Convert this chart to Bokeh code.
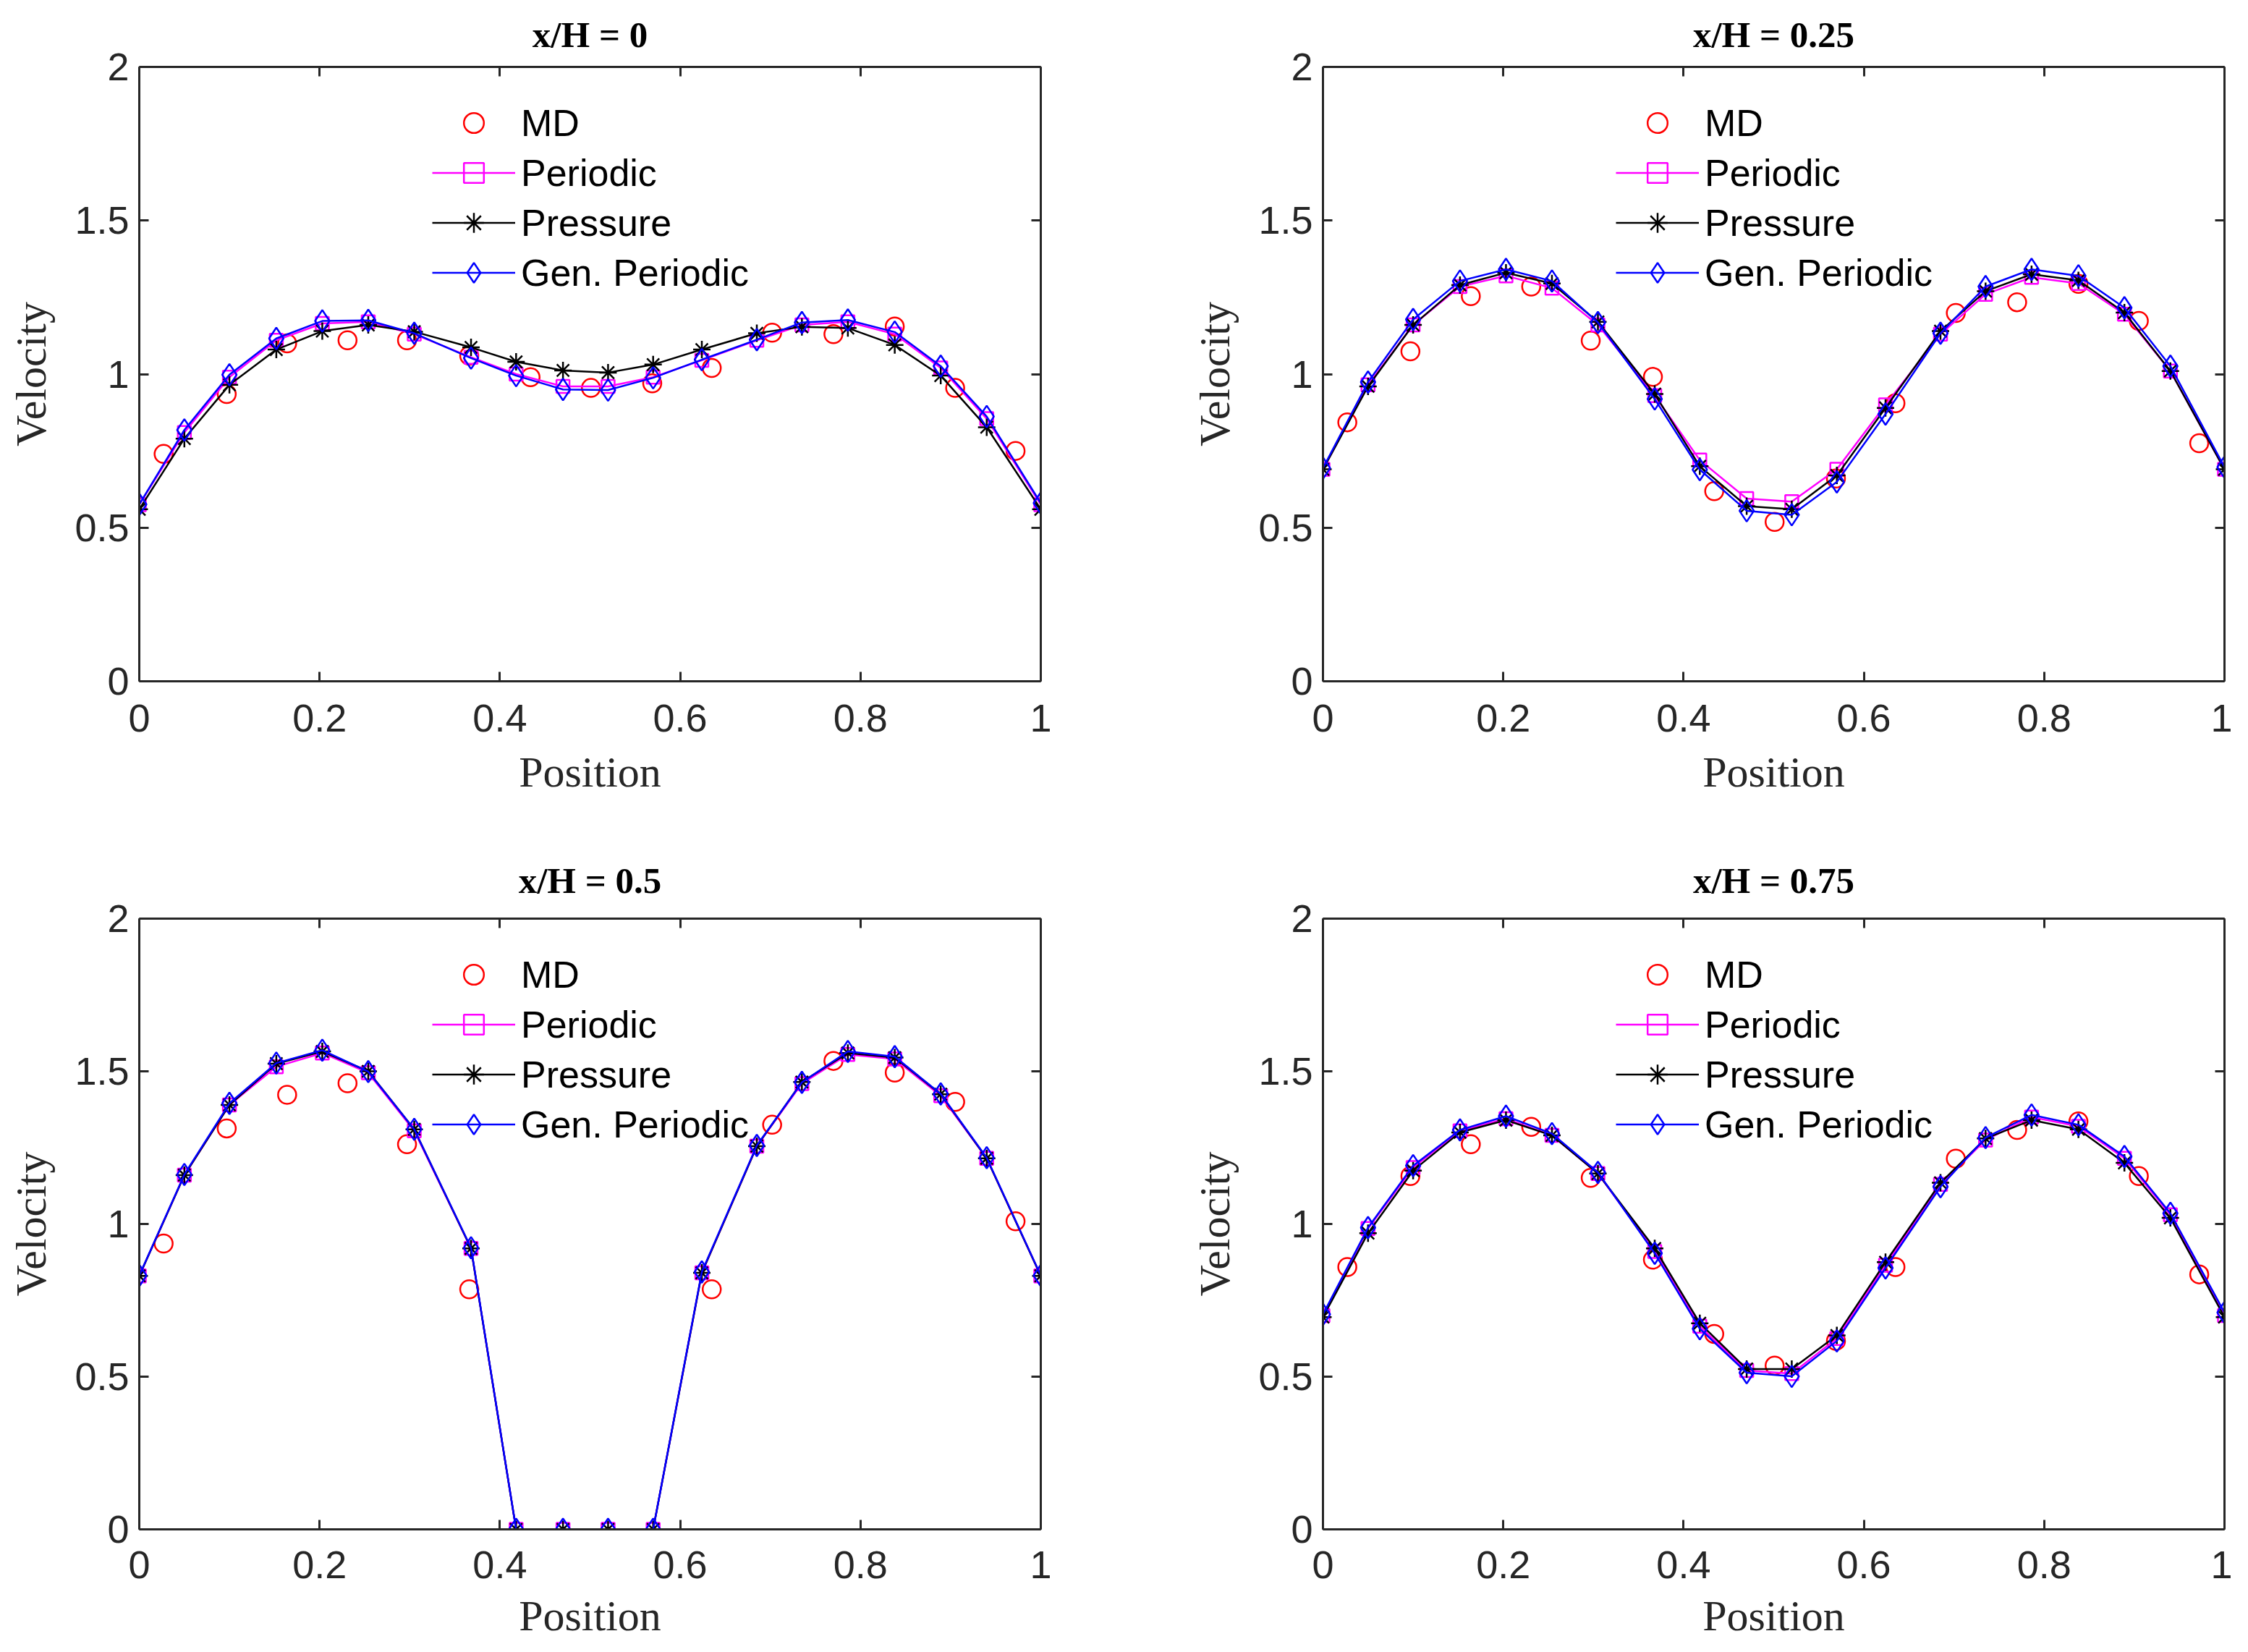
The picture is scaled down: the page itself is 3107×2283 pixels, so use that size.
from bokeh.plotting import figure
from bokeh.models import Range1d, FixedTicker, LinearAxis, Legend, LegendItem
from bokeh.layouts import column, row
from bokeh.embed import file_html
from bokeh.resources import INLINE

nan = float("nan")

# ---------------- data ----------------
X_GRID = [0.0, 0.05, 0.1, 0.152, 0.203, 0.254, 0.305, 0.368, 0.418, 0.47,
          0.52, 0.57, 0.624, 0.685, 0.735, 0.786, 0.838, 0.889, 0.94, 1.0]
X_MD = [0.027, 0.097, 0.164, 0.231, 0.297, 0.366, 0.434, 0.501, 0.569,
        0.635, 0.702, 0.770, 0.838, 0.905, 0.972]

TITLES = ["x/H = 0", "x/H = 0.25", "x/H = 0.5", "x/H = 0.75"]

md_0 = [0.74, 0.935, 1.10, 1.11, 1.11, 1.06, 0.99, 0.955, 0.97, 1.02, 1.135, 1.13, 1.155, 0.955, 0.75]
periodic_0 = [0.575, 0.81, 0.99, 1.11, 1.165, 1.17, 1.13, 1.055, 1.0, 0.96, 0.96, 0.99, 1.045, 1.11,
              1.16, 1.17, 1.13, 1.02, 0.855, 0.575]
pressure_0 = [0.56, 0.79, 0.965, 1.08, 1.14, 1.16, 1.138, 1.087, 1.04, 1.012, 1.005, 1.031, 1.08, 1.133,
              1.154, 1.15, 1.095, 0.995, 0.827, 0.56]
genper_0 = [0.576, 0.818, 0.998, 1.116, 1.173, 1.175, 1.133, 1.052, 0.995, 0.95, 0.948, 0.988, 1.047, 1.112,
            1.168, 1.176, 1.137, 1.026, 0.862, 0.58]

md_1 = [0.843, 1.074, 1.254, 1.285, 1.109, 0.991, 0.619, 0.519, 0.66, 0.905, 1.199, 1.234, 1.294, 1.173, 0.775]
periodic_1 = [0.69, 0.965, 1.16, 1.285, 1.32, 1.28, 1.16, 0.93, 0.72, 0.595, 0.585, 0.69, 0.9, 1.13,
              1.26, 1.315, 1.295, 1.195, 1.01, 0.69]
pressure_1 = [0.69, 0.96, 1.16, 1.29, 1.33, 1.295, 1.17, 0.935, 0.70, 0.57, 0.56, 0.67, 0.89, 1.14,
              1.27, 1.325, 1.305, 1.2, 1.01, 0.69]
genper_1 = [0.694, 0.974, 1.178, 1.303, 1.341, 1.303, 1.168, 0.919, 0.689, 0.555, 0.542, 0.649, 0.870, 1.133,
            1.285, 1.341, 1.32, 1.216, 1.026, 0.697]

md_2 = [0.936, 1.313, 1.423, 1.461, 1.261, 0.786, nan, nan, nan, 0.786, 1.325, 1.534, 1.496, 1.40, 1.009]
periodic_2 = [0.83, 1.16, 1.39, 1.515, 1.56, 1.495, 1.305, 0.92, 0.0, 0.0, 0.0, 0.0, 0.84, 1.255,
              1.46, 1.555, 1.54, 1.42, 1.215, 0.83]
pressure_2 = [0.83, 1.16, 1.39, 1.525, 1.565, 1.5, 1.31, 0.92, 0.0, 0.0, 0.0, 0.0, 0.84, 1.255,
              1.465, 1.56, 1.545, 1.425, 1.215, 0.83]
genper_2 = [0.831, 1.162, 1.395, 1.527, 1.569, 1.499, 1.31, 0.922, 0.0, 0.0, 0.0, 0.0, 0.843, 1.257,
            1.464, 1.565, 1.548, 1.426, 1.217, 0.831]

md_3 = [0.859, 1.157, 1.261, 1.318, 1.151, 0.883, 0.64, 0.536, 0.617, 0.859, 1.214, 1.308, 1.336, 1.157, 0.835]
periodic_3 = [0.70, 0.985, 1.185, 1.305, 1.345, 1.29, 1.165, 0.91, 0.665, 0.52, 0.51, 0.625, 0.865, 1.13,
              1.275, 1.35, 1.32, 1.215, 1.03, 0.70]
pressure_3 = [0.695, 0.97, 1.175, 1.30, 1.34, 1.29, 1.165, 0.92, 0.675, 0.525, 0.525, 0.635, 0.875, 1.135,
              1.28, 1.34, 1.31, 1.2, 1.02, 0.695]
genper_3 = [0.704, 0.988, 1.191, 1.308, 1.353, 1.296, 1.169, 0.904, 0.657, 0.513, 0.501, 0.617, 0.856, 1.122,
            1.283, 1.357, 1.325, 1.221, 1.035, 0.71]

X_TICKS = [0, 0.2, 0.4, 0.6, 0.8, 1]
X_TICK_LABELS = ["0", "0.2", "0.4", "0.6", "0.8", "1"]
Y_TICKS = [0, 0.5, 1, 1.5, 2]
Y_TICK_LABELS = ["0", "0.5", "1", "1.5", "2"]
SERIES_NAMES = ["MD", "Periodic", "Pressure", "Gen. Periodic"]

AX_COLOR = "#262626"
TICK_FONT = "Liberation Sans"
SERIF = "Liberation Serif"
LW = 2.5


def style_axis(ax, ticks, labels, show_labels):
    ax.ticker = FixedTicker(ticks=ticks)
    ax.axis_line_color = AX_COLOR
    ax.axis_line_width = 3
    ax.major_tick_line_color = AX_COLOR
    ax.major_tick_line_width = 3
    ax.major_tick_in = 13
    ax.major_tick_out = 0
    ax.minor_tick_line_color = None
    if show_labels:
        ax.major_label_overrides = {t: l for t, l in zip(ticks, labels)}
        ax.major_label_text_font = TICK_FONT
        ax.major_label_text_font_size = "54px"
        ax.major_label_text_color = AX_COLOR
    else:
        ax.major_label_overrides = {t: "" for t in ticks}
        ax.major_label_text_font_size = "1px"
        ax.major_label_standoff = 0


def make_panel(title, md, per, pre, gen, bl, br, bt, bb, fh, tick_so, lab_so, title_so):
    p = figure(frame_width=1246, frame_height=fh,
               min_border_left=bl, min_border_right=br,
               min_border_top=bt, min_border_bottom=bb,
               x_range=Range1d(0, 1), y_range=Range1d(0, 2),
               output_backend="svg", toolbar_location=None,
               background_fill_color="white", border_fill_color="white")
    p.grid.visible = False
    p.outline_line_color = None

    xa = p.xaxis[0]
    ya = p.yaxis[0]
    style_axis(xa, X_TICKS, X_TICK_LABELS, True)
    style_axis(ya, Y_TICKS, Y_TICK_LABELS, True)
    xa.major_label_standoff = tick_so
    ya.major_label_standoff = 14
    xa.axis_label = "Position"
    ya.axis_label = "Velocity"
    for a, st in ((xa, lab_so), (ya, 24)):
        a.axis_label_text_font = SERIF
        a.axis_label_text_font_style = "normal"
        a.axis_label_text_font_size = "60px"
        a.axis_label_text_color = AX_COLOR
        a.axis_label_standoff = st

    top = LinearAxis()
    style_axis(top, X_TICKS, X_TICK_LABELS, False)
    p.add_layout(top, "above")
    right = LinearAxis()
    style_axis(right, Y_TICKS, Y_TICK_LABELS, False)
    p.add_layout(right, "right")

    p.title.text = title
    p.title.align = "center"
    p.title.text_font = SERIF
    p.title.text_font_style = "bold"
    p.title.text_font_size = "51px"
    p.title.text_color = "black"
    p.title.standoff = title_so

    r_md = p.scatter(X_MD, md, marker="circle", size=25, fill_color=None,
                     line_color="#FF0000", line_width=LW)
    l_per = p.line(X_GRID, per, line_color="#FF00FF", line_width=LW)
    s_per = p.scatter(X_GRID, per, marker="square", size=18, fill_color=None,
                      line_color="#FF00FF", line_width=LW)
    l_pre = p.line(X_GRID, pre, line_color="black", line_width=LW)
    s_pre = p.scatter(X_GRID, pre, marker="asterisk", size=24,
                      line_color="black", line_width=LW)
    l_gen = p.line(X_GRID, gen, line_color="#0000FF", line_width=LW)
    s_gen = p.scatter(X_GRID, gen, marker="diamond", size=30, fill_color=None,
                      line_color="#0000FF", line_width=LW)

    items = [LegendItem(label=SERIES_NAMES[0], renderers=[r_md]),
             LegendItem(label=SERIES_NAMES[1], renderers=[l_per, s_per]),
             LegendItem(label=SERIES_NAMES[2], renderers=[l_pre, s_pre]),
             LegendItem(label=SERIES_NAMES[3], renderers=[l_gen, s_gen])]
    leg = Legend(items=items, location=(405, fh - 43 - 4 * 69))
    leg.border_line_color = None
    leg.background_fill_alpha = 0
    leg.padding = 0
    leg.margin = 0
    leg.spacing = 0
    leg.glyph_width = 115
    leg.glyph_height = 69
    leg.label_height = 69
    leg.label_standoff = 8
    leg.label_text_font = TICK_FONT
    leg.label_text_font_size = "52px"
    leg.label_text_color = "black"
    p.add_layout(leg)
    return p


p1 = make_panel(TITLES[0], md_0, periodic_0, pressure_0, genper_0, 192, 107, 91, 190, 849, 32, 20, 34)
p2 = make_panel(TITLES[1], md_1, periodic_1, pressure_1, genper_1, 283, 11, 91, 190, 849, 32, 20, 34)
p3 = make_panel(TITLES[2], md_2, periodic_2, pressure_2, genper_2, 192, 107, 138, 140, 844, 30, 16, 50)
p4 = make_panel(TITLES[3], md_3, periodic_3, pressure_3, genper_3, 283, 11, 138, 140, 844, 30, 16, 50)

layout = column(row(p1, p2), row(p3, p4))

open("out.html", "w").write(file_html(layout, INLINE))
